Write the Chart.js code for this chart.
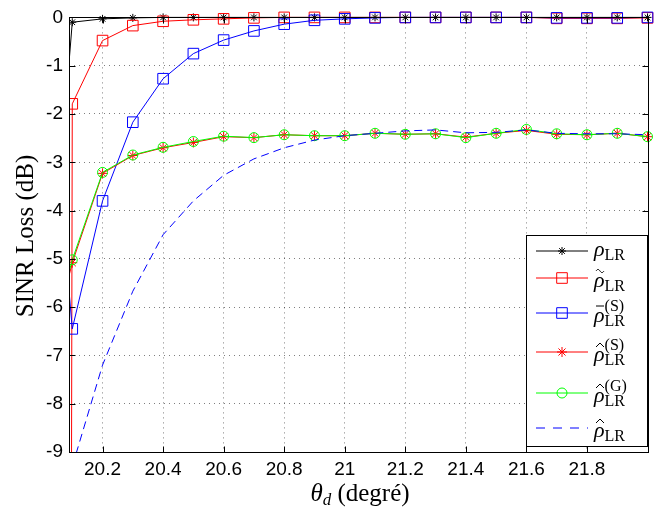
<!DOCTYPE html>
<html>
<head>
<meta charset="utf-8">
<script src="https://cdn.jsdelivr.net/npm/chart.js@4.4.0/dist/chart.umd.min.js"></script>
<style>
  body { margin: 0; background: #fff; overflow: hidden; }
  canvas { display: block; }
</style>
</head>
<body>
<canvas id="sinrChart" width="656" height="513"></canvas>
<script>
// theta_d in degrees; 20.0 lies just left of the visible axis (curves run off-axis there)
var thetaD = [20.0, 20.1, 20.2, 20.3, 20.4, 20.5, 20.6, 20.7, 20.8, 20.9, 21.0,
              21.1, 21.2, 21.3, 21.4, 21.5, 21.6, 21.7, 21.8, 21.9, 22.0];

// SINR loss (dB)
var rhoLR      = [-7.9, -0.10, -0.03, -0.01, 0, 0, 0, 0, 0, 0, 0,
                  0, 0, 0, 0, 0, 0, 0, 0, 0, 0];
var rhoTilde   = [-300, -1.79, -0.48, -0.17, -0.08, -0.05, -0.03, -0.01, 0, 0, 0,
                  0, 0, 0, 0, 0, 0, -0.02, -0.02, -0.02, -0.01];
var rhoBarS    = [0.9, -6.45, -3.80, -2.17, -1.27, -0.75, -0.47, -0.28, -0.14, -0.06, -0.03,
                  -0.01, 0, 0, 0, 0, 0, -0.01, -0.01, -0.01, 0];
var rhoHatS    = [-7.6, -5.08, -3.23, -2.86, -2.70, -2.59, -2.47, -2.49, -2.43, -2.45, -2.45,
                  -2.40, -2.42, -2.41, -2.48, -2.40, -2.34, -2.42, -2.43, -2.40, -2.47];
var rhoHatG    = [-7.4, -5.02, -3.21, -2.85, -2.69, -2.57, -2.46, -2.49, -2.43, -2.45, -2.45,
                  -2.40, -2.42, -2.41, -2.49, -2.40, -2.32, -2.41, -2.43, -2.40, -2.47];
var rhoHat     = [null, -9.30, -7.20, -5.67, -4.50, -3.80, -3.27, -2.93, -2.70, -2.54, -2.45,
                  -2.40, -2.35, -2.33, -2.39, -2.38, -2.33, -2.40, -2.41, -2.41, -2.43];

var xTicks = [20.2, 20.4, 20.6, 20.8, 21, 21.2, 21.4, 21.6, 21.8];
var yTicks = [0, -1, -2, -3, -4, -5, -6, -7, -8, -9];

// legend: accent over rho and superscript, subscript is always LR
var legendAccent = ['', 'tilde', 'bar', 'hat', 'hat', 'hat'];
var legendSup    = ['', '', '(S)', '(S)', '(G)', ''];

function pts(ys) {
  var out = [];
  for (var i = 0; i < thetaD.length; i++) out.push({x: thetaD[i], y: ys[i]});
  return out;
}

var clipArea = {left: 0, top: 8, right: 8, bottom: 0};

var datasets = [
  {data: pts(rhoLR), borderColor: '#000', pointStyle: 'star', pointRadius: 4, order: 6},
  {data: pts(rhoTilde), borderColor: '#ff0000', pointStyle: 'rect', pointRadius: 7.5, order: 5},
  {data: pts(rhoBarS), borderColor: '#0000ff', pointStyle: 'rect', pointRadius: 7.5, order: 4},
  {data: pts(rhoHatS), borderColor: '#ff0000', pointStyle: 'star', pointRadius: 5, order: 3},
  {data: pts(rhoHatG), borderColor: '#00ff00', pointStyle: 'circle', pointRadius: 5, order: 2},
  {data: pts(rhoHat), borderColor: '#0000ff', borderDash: [8, 5], pointRadius: 0, order: 1}
];
datasets.forEach(function(d) {
  d.borderWidth = 1;
  d.pointBorderColor = d.borderColor;
  d.pointBackgroundColor = 'rgba(0,0,0,0)';
  d.pointBorderWidth = 1;
  d.fill = false;
  d.tension = 0;
  d.clip = clipArea;
});

function drawAccent(ctx, kind, cx, y) {
  ctx.beginPath();
  if (kind == 'tilde') {
    for (var k = 0; k <= 16; k++) {
      var t = k / 16;
      var px = cx - 4 + 8 * t, py = y - 1.6 * Math.sin(2 * Math.PI * t);
      if (k == 0) ctx.moveTo(px, py); else ctx.lineTo(px, py);
    }
  } else if (kind == 'bar') {
    ctx.moveTo(cx - 4, y); ctx.lineTo(cx + 4, y);
  } else if (kind == 'hat') {
    ctx.moveTo(cx - 4, y + 2); ctx.lineTo(cx, y - 2); ctx.lineTo(cx + 4, y + 2);
  }
  ctx.stroke();
}

var framePlugin = {
  id: 'frame',
  afterDatasetsDraw: function(chart) {
    var ctx = chart.ctx, a = chart.chartArea, xs = chart.scales.x, ys = chart.scales.y;
    ctx.save();
    ctx.strokeStyle = '#000';
    ctx.lineWidth = 1;
    var l = Math.round(a.left) + 0.5, t = Math.round(a.top) + 0.5;
    var r = Math.round(a.right) + 0.5, b = Math.round(a.bottom) + 0.5;
    ctx.strokeRect(l, t, r - l, b - t);
    ctx.beginPath();
    xTicks.forEach(function(v) {
      var px = Math.round(xs.getPixelForValue(v)) + 0.5;
      ctx.moveTo(px, b); ctx.lineTo(px, b - 6);
      ctx.moveTo(px, t); ctx.lineTo(px, t + 6);
    });
    yTicks.forEach(function(v) {
      var py = Math.round(ys.getPixelForValue(v)) + 0.5;
      ctx.moveTo(l, py); ctx.lineTo(l + 6, py);
      ctx.moveTo(r, py); ctx.lineTo(r - 6, py);
    });
    ctx.stroke();
    ctx.restore();
  },
  afterDraw: function(chart) {
    var ctx = chart.ctx;
    ctx.save();
    // axis titles
    ctx.fillStyle = '#000';
    ctx.textBaseline = 'alphabetic';
    ctx.font = 'italic 25px "Liberation Serif"';
    var th = 'θ', rest = ' (degré)';
    var wTh = ctx.measureText(th).width;
    ctx.font = 'italic 17px "Liberation Serif"';
    var wD = ctx.measureText('d').width;
    ctx.font = '25px "Liberation Serif"';
    var wRest = ctx.measureText(rest).width;
    var x0 = 360 - (wTh + wD + wRest) / 2;
    ctx.font = 'italic 25px "Liberation Serif"';
    ctx.fillText(th, x0, 501);
    ctx.font = 'italic 17px "Liberation Serif"';
    ctx.fillText('d', x0 + wTh, 505);
    ctx.font = '25px "Liberation Serif"';
    ctx.fillText(rest, x0 + wTh + wD, 501);

    ctx.translate(26, 236);
    ctx.rotate(-Math.PI / 2);
    ctx.textAlign = 'center';
    ctx.textBaseline = 'middle';
    ctx.fillText('SINR Loss (dB)', 0, 0);
    ctx.setTransform(1, 0, 0, 1, 0, 0);
    ctx.textAlign = 'left';
    ctx.textBaseline = 'alphabetic';

    // legend box
    var bx = 526.5, by = 235.5, bw = 121, bh = 211;
    ctx.fillStyle = '#fff';
    ctx.fillRect(bx, by, bw, bh);
    ctx.strokeStyle = '#000';
    ctx.lineWidth = 1;
    ctx.strokeRect(bx, by, bw, bh);

    var rowY = [251, 278, 313, 352, 393, 428];
    chart.data.datasets.forEach(function(ds, i) {
      var y = rowY[i];
      ctx.save();
      ctx.strokeStyle = ds.borderColor;
      ctx.lineWidth = 1;
      ctx.setLineDash(ds.borderDash ? [9, 8] : []);
      ctx.beginPath();
      ctx.moveTo(536, y); ctx.lineTo(588, y);
      ctx.stroke();
      ctx.setLineDash([]);
      if (ds.pointRadius > 0) {
        ctx.fillStyle = 'rgba(0,0,0,0)';
        Chart.helpers.drawPoint(ctx, {pointStyle: ds.pointStyle, radius: ds.pointRadius,
          borderWidth: 1, rotation: 0}, 562, y);
      }
      ctx.restore();

      var acc = legendAccent[i], sup = legendSup[i];
      var base = rowY[i] + ((acc || sup) ? 9 : 5);
      ctx.fillStyle = '#000';
      ctx.font = 'italic 22px "Liberation Serif"';
      ctx.fillText('ρ', 594, base);
      var wr = ctx.measureText('ρ').width;
      ctx.font = '16px "Liberation Serif"';
      ctx.fillText('LR', 594 + wr, base + 4);
      if (sup) {
        ctx.font = '16px "Liberation Serif"';
        ctx.fillText(sup, 594 + wr, rowY[i] - 2);
      }
      if (acc) {
        ctx.strokeStyle = '#000';
        ctx.lineWidth = 1;
        drawAccent(ctx, acc, 600, rowY[i] - 7);
      }
    });
    ctx.restore();
  }
};

new Chart(document.getElementById('sinrChart'), {
  type: 'line',
  data: {datasets: datasets},
  options: {
    responsive: false,
    animation: false,
    devicePixelRatio: 1,
    layout: {padding: {top: 16, right: 1, left: 0, bottom: 0}},
    plugins: {legend: {display: false}, tooltip: {enabled: false}},
    scales: {
      x: {
        type: 'linear',
        min: 20.0892,
        max: 22.0,
        afterFit: function(s) { s.height = 61; },
        afterBuildTicks: function(s) { s.ticks = xTicks.map(function(v) { return {value: v}; }); },
        grid: {color: 'rgba(0,0,0,0.5)', lineWidth: 1, drawTicks: false},
        border: {display: false, dash: [1, 4]},
        ticks: {
          color: '#000',
          font: {family: '"Liberation Sans", Arial, sans-serif', size: 19},
          padding: 6,
          maxRotation: 0,
          autoSkip: false,
          callback: function(v) { return String(+Number(v).toFixed(1)); }
        }
      },
      y: {
        type: 'linear',
        min: -9,
        max: 0,
        afterFit: function(s) { s.width = 69; },
        afterBuildTicks: function(s) { s.ticks = yTicks.map(function(v) { return {value: v}; }); },
        grid: {color: 'rgba(0,0,0,0.5)', lineWidth: 1, drawTicks: false},
        border: {display: false, dash: [1, 4]},
        ticks: {
          color: '#000',
          font: {family: '"Liberation Sans", Arial, sans-serif', size: 19},
          padding: 6,
          autoSkip: false,
          callback: function(v) { return String(v); }
        }
      }
    }
  },
  plugins: [framePlugin]
});
</script>
</body>
</html>
